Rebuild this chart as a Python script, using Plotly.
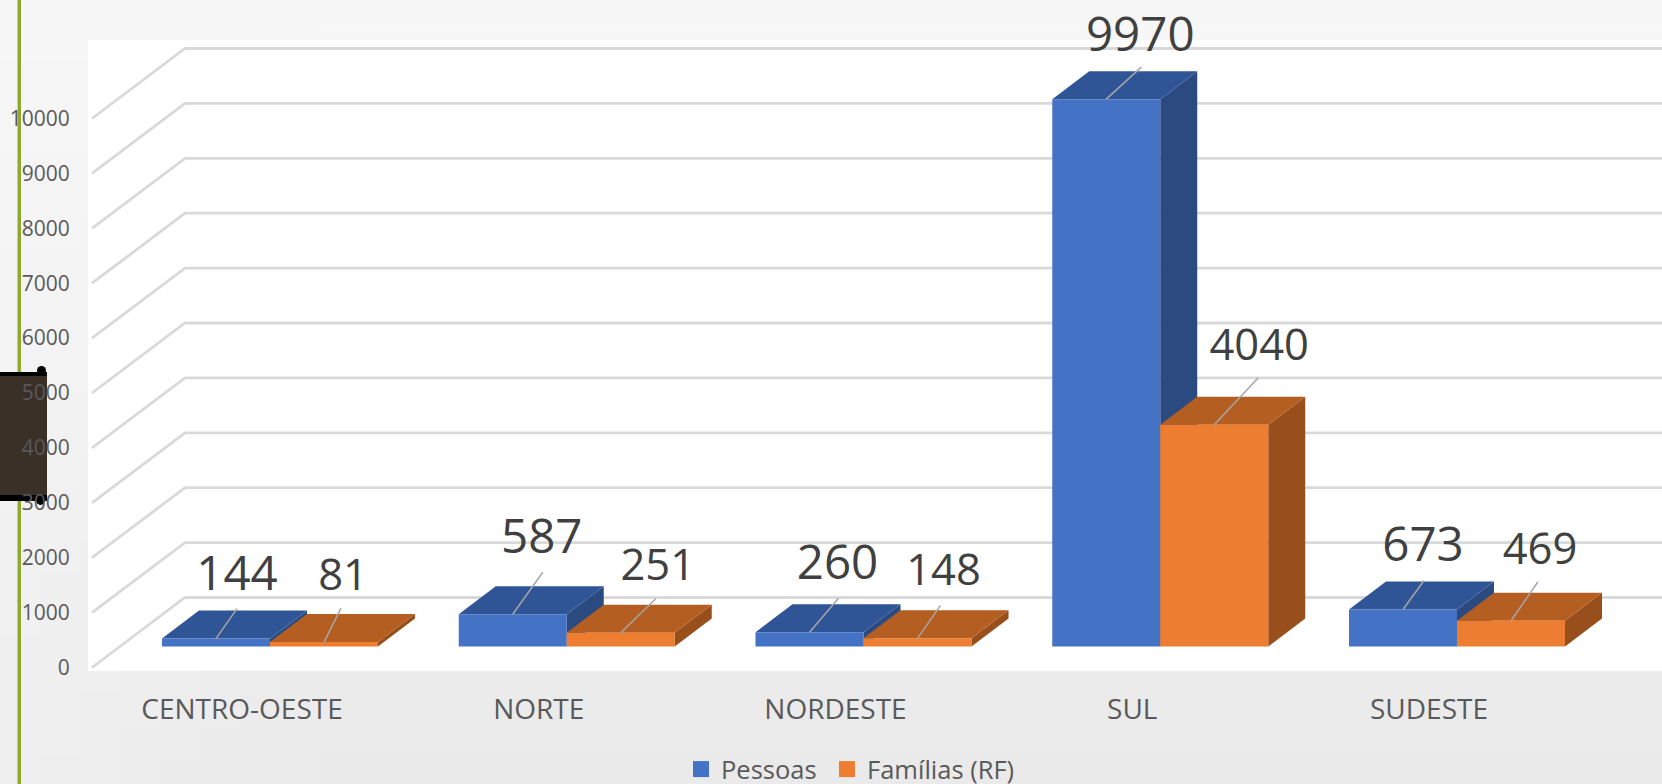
import plotly.graph_objects as go

# ---- data ----
categories = ["CENTRO-OESTE", "NORTE", "NORDESTE", "SUL", "SUDESTE"]
pessoas = [144, 587, 260, 9970, 673]
familias = [81, 251, 148, 4040, 469]
series_names = ["Pessoas", "Famílias (RF)"]
y_ticks = [0, 1000, 2000, 3000, 4000, 5000, 6000, 7000, 8000, 9000, 10000]

# ---- page geometry (pixels) ----
W, H = 1662, 784
M_L, M_B = 78, 101
PLOT_W, PLOT_H = W - M_L, H - M_B
X0_PX, X_STEP = 242.0, 296.75      # category 0 label, category spacing
Y0_PX, Y_SCALE = 667.5, 0.0549     # value 0 pixel, pixels per unit


def ux(px):
    return px / X_STEP


def uy(px):
    return px / Y_SCALE


def paper_x(px):
    return (px - M_L) / PLOT_W


def paper_y(px):
    return (H - M_B - px) / PLOT_H


# 3D-look offsets, in pixels
GROUP_SHIFT = 28
BAR_W = 108
DEPTH_X, DEPTH_Y = 37, 28
FLOOR_UP = 21
GRID_FRONT_PX, GRID_BACK_PX = 92, 185
GRID_DEPTH = 70

# (dx, dy) pixels from the bar's top-front centre
LEADERS = [
    [(21, -30), (30, -42), (29, -34), (35, -32), (21, -29)],
    [(17, -34), (35, -34), (23, -33), (44, -47), (27, -39)],
]
LABELS = [
    [(21, -60), (29, -73), (28, -65), (34, -60), (20, -60)],
    [(19, -63), (37, -64), (26, -64), (45, -76), (29, -68)],
]
LABEL_SIZE = [47.5, 43.5]
COLORS = [
    dict(front="#4472C4", top="#2F5597", side="#2B4A80"),
    dict(front="#ED7D31", top="#B55E22", side="#994F1B"),
]

fig = go.Figure()

# gridlines (floor-to-wall polylines)
gx, gy = [], []
for v in y_ticks:
    gx += [ux(GRID_FRONT_PX - X0_PX), ux(GRID_BACK_PX - X0_PX), ux(W - X0_PX), None]
    gy += [v, v + uy(GRID_DEPTH), v + uy(GRID_DEPTH), None]
fig.add_trace(go.Scatter(x=gx, y=gy, mode="lines", line=dict(color="#D9D9D9", width=2.8),
                         hoverinfo="skip", showlegend=False))


def faces(values, series):
    front_x, front_y, top_x, top_y, side_x, side_y = [], [], [], [], [], []
    base = uy(FLOOR_UP)
    dx, dy = ux(DEPTH_X), uy(DEPTH_Y)
    for i, v in enumerate(values):
        c = i + ux(GROUP_SHIFT)
        x0 = c - ux(BAR_W) if series == 0 else c
        x1 = c if series == 0 else c + ux(BAR_W)
        yb, yt = base, v + base
        front_x += [x0, x1, x1, x0, x0, None]
        front_y += [yb, yb, yt, yt, yb, None]
        top_x += [x0, x1, x1 + dx, x0 + dx, x0, None]
        top_y += [yt, yt, yt + dy, yt + dy, yt, None]
        side_x += [x1, x1 + dx, x1 + dx, x1, x1, None]
        side_y += [yb, yb + dy, yt + dy, yt, yb, None]
    return (front_x, front_y), (top_x, top_y), (side_x, side_y)


for s, values in enumerate([pessoas, familias]):
    front, top, side = faces(values, s)
    for (xs, ys), key in ((side, "side"), (top, "top"), (front, "front")):
        fig.add_trace(go.Scatter(x=xs, y=ys, mode="lines", fill="toself",
                                 fillcolor=COLORS[s][key], line=dict(width=0),
                                 hoverinfo="skip", showlegend=False))

for s, values in enumerate([pessoas, familias]):
    lx, ly, tx, ty = [], [], [], []
    for i, v in enumerate(values):
        c = i + ux(GROUP_SHIFT) + ux(BAR_W / 2) * (-1 if s == 0 else 1)
        yt = v + uy(FLOOR_UP)
        ldx, ldy = LEADERS[s][i]
        lx += [c, c + ux(ldx), None]
        ly += [yt, yt - uy(ldy), None]
        tdx, tdy = LABELS[s][i]
        tx.append(c + ux(tdx))
        ty.append(yt - uy(tdy))
    fig.add_trace(go.Scatter(x=lx, y=ly, mode="lines", line=dict(color="#A6A6A6", width=1.5),
                             hoverinfo="skip", showlegend=False))
    fig.add_trace(go.Scatter(x=tx, y=ty, mode="text", text=[str(v) for v in values],
                             textposition="middle center", cliponaxis=False,
                             textfont=dict(family="Open Sans", size=LABEL_SIZE[s], color="#404040"),
                             hoverinfo="skip", showlegend=False))

# legend entries, one native legend each so the two sit apart as in the picture
for s, name in enumerate(series_names):
    fig.add_trace(go.Scatter(x=[None], y=[None], mode="markers", name=name,
                             legend="legend" if s == 0 else "legend2",
                             marker=dict(symbol="square", size=16, color=COLORS[s]["front"])))

# background decoration: soft page gradient, lighter at the top and towards the left edge
shapes = []
ROWS = 26
COL_EDGES = [0, 40, 80, 120, 160, 200, 240, 280, 320, W]
for r in range(ROWS):
    for k in range(len(COL_EDGES) - 1):
        ty = r / (ROWS - 1)
        edge = min(1.0, (COL_EDGES[k] + COL_EDGES[k + 1]) / 2 / 340) if k < len(COL_EDGES) - 2 else 1.0
        g = round(247 - 13 * ty * (0.6 + 0.4 * edge))
        shapes.append(dict(type="rect", xref="paper", yref="paper", layer="below",
                           x0=paper_x(COL_EDGES[k]), x1=paper_x(COL_EDGES[k + 1] + 1),
                           y0=paper_y(r * H / ROWS), y1=paper_y((r + 1) * H / ROWS + 1),
                           fillcolor=f"rgb({g},{g},{g})", line=dict(width=0)))


def rect(x0, y0, x1, y1, color, kind="rect"):
    shapes.append(dict(type=kind, xref="paper", yref="paper", layer="below",
                       x0=paper_x(x0), x1=paper_x(x1), y0=paper_y(y0), y1=paper_y(y1),
                       fillcolor=color, line=dict(width=0)))


rect(88, 40, W, 671, "#FFFFFF")
rect(17.5, 0, 21, H, "#8FA82E")
rect(37, 366, 46, 375, "#000000", "circle")
rect(36, 495, 45, 505, "#000000", "circle")
rect(0, 372, 47, 501, "#000000")
rect(0, 376, 47, 495, "#3A3028")

legend_common = dict(orientation="h", xanchor="left", yanchor="top",
                     font=dict(size=25.5, color="#595959"), bgcolor="rgba(0,0,0,0)")

fig.update_layout(
    width=W, height=H, autosize=False,
    margin=dict(l=M_L, r=0, t=0, b=M_B, pad=0, autoexpand=False),
    paper_bgcolor="#F0F0F0", plot_bgcolor="rgba(0,0,0,0)",
    shapes=shapes,
    font=dict(family="Open Sans", color="#595959"),
    xaxis=dict(range=[ux(M_L - X0_PX), ux(W - X0_PX)], tickvals=list(range(len(categories))),
               ticktext=categories, showgrid=False, zeroline=False, showline=False,
               ticks="outside", ticklen=1, tickcolor="rgba(0,0,0,0)",
               tickfont=dict(size=28, color="#595959")),
    yaxis=dict(range=[uy(Y0_PX - (H - M_B)), uy(Y0_PX)], tickvals=y_ticks, tickformat="d",
               showgrid=False, zeroline=False, showline=False,
               ticks="outside", ticklen=3, tickcolor="rgba(0,0,0,0)",
               tickfont=dict(size=21, color="#595959")),
    legend=dict(x=paper_x(681), y=paper_y(746), **legend_common),
    legend2=dict(x=paper_x(827), y=paper_y(746), **legend_common),
    hovermode=False,
)

fig.write_html("out.html", config=dict(displayModeBar=False),
               post_script="document.body.style.margin='0';document.body.style.overflow='hidden';")
